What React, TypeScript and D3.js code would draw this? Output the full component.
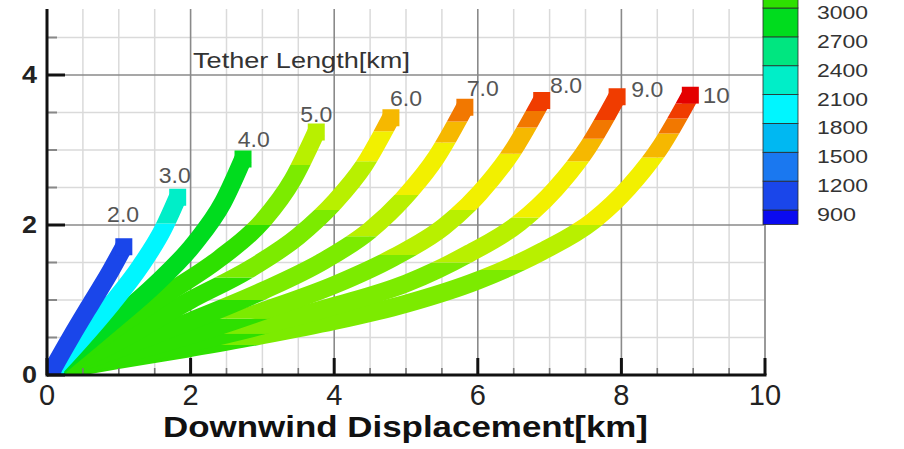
import React from "react";
import * as d3 from "d3";

// ---------- data ----------
const xTickValues = [0, 2, 4, 6, 8, 10];
const yTickValues = [0, 2, 4];
const legendValues = [900, 1200, 1500, 1800, 2100, 2400, 2700, 3000];
const levelBreaks = [900, 1200, 1500, 1800, 2100, 2400, 2700, 3000, 3300, 3600, 3900, 4200, 4500, 4800, 5100];
const levelColors = [
  "#0a0af0", "#1a46ea", "#1a78f0", "#00b8f2", "#00f6ff", "#00eec8", "#00e680", "#00dc1e",
  "#2ee000", "#7ceb00", "#b8f000", "#f2f000", "#f6b800", "#f27800", "#f03c00", "#e40000",
];

const tetherNames = ["2.0", "3.0", "4.0", "5.0", "6.0", "7.0", "8.0", "9.0", "10"];

// tether shapes [downwind km, altitude km]
const pts2 = [[0.08, 0.08], [0.33, 0.5], [0.63, 0.98], [0.87, 1.36], [1.07, 1.71]];
const pts3 = [[0.12, 0.1], [0.5, 0.5], [0.9, 0.95], [1.3, 1.45], [1.62, 1.95], [1.82, 2.37]];
const pts4 = [[0.15, 0.1], [0.9, 0.7], [1.5, 1.2], [2.05, 1.75], [2.45, 2.3], [2.73, 2.88]];
const pts5 = [[0.15, 0.08], [1.0, 0.65], [1.7, 1.1], [2.4, 1.55], [3.0, 2.05], [3.42, 2.6], [3.75, 3.24]];
const pts6 = [[0.15, 0.06], [1.0, 0.45], [2.0, 1.0], [2.8, 1.4], [3.5, 1.85], [4.0, 2.3], [4.42, 2.8], [4.79, 3.43]];
const pts7 = [[0.15, 0.06], [1.0, 0.35], [2.0, 0.72], [3.0, 1.12], [3.85, 1.52], [4.5, 1.93], [4.98, 2.37], [5.42, 2.9], [5.82, 3.57]];
const pts8 = [[0.15, 0.06], [1.0, 0.26], [2.0, 0.53], [3.0, 0.85], [4.0, 1.2], [4.83, 1.57], [5.53, 1.98], [6.03, 2.43], [6.48, 2.98], [6.89, 3.66]];
const pts9 = [[0.15, 0.06], [1.0, 0.22], [2.0, 0.43], [3.0, 0.66], [4.0, 0.92], [5.0, 1.22], [5.88, 1.62], [6.58, 2.03], [7.08, 2.48], [7.53, 3.03], [7.94, 3.71]];
const pts10 = [[0.15, 0.06], [1.0, 0.2], [2.0, 0.36], [3.0, 0.53], [4.0, 0.72], [5.0, 0.95], [6.0, 1.26], [6.9, 1.65], [7.6, 2.05], [8.1, 2.5], [8.55, 3.05], [8.96, 3.73]];

// tension along each tether: [altitude km from which, tension value]
const tension2 = [[0, 1000]];
const tension3 = [[0, 1950], [2.02, 2250]];
const tension4 = [[0, 2850]];
const tension5 = [[0, 3100], [2.0, 3450], [2.8, 3700]];
const tension6 = [[0, 3100], [1.3, 3450], [2.2, 3700], [2.85, 4000], [3.25, 4300]];
const tension7 = [[0, 3100], [1.0, 3450], [1.85, 3700], [2.4, 4000], [3.1, 4300], [3.38, 4600]];
const tension8 = [[0, 3100], [0.75, 3450], [1.6, 3700], [2.2, 4000], [2.95, 4300], [3.3, 4600], [3.52, 4900]];
const tension9 = [[0, 3100], [0.55, 3450], [1.5, 3700], [2.1, 4000], [2.85, 4300], [3.15, 4600], [3.4, 4900]];
const tension10 = [[0, 3100], [0.4, 3450], [1.4, 3700], [2.0, 4000], [2.9, 4300], [3.22, 4600], [3.42, 4900], [3.62, 5200]];

// tether label anchors [km, km]
const labelAnchors = [[1.06, 2.04], [1.78, 2.56], [2.88, 3.04], [3.75, 3.37], [5.0, 3.59], [6.07, 3.72], [7.23, 3.76], [8.36, 3.71], [9.32, 3.63]];

const FONT = "'Liberation Sans', Arial, sans-serif";

export default function App() {
  const x = d3.scaleLinear().domain([0, 10]).range([47, 765]);
  const y = d3.scaleLinear().domain([0, 4.88]).range([375, 9]);
  const color = d3.scaleThreshold<number, string>().domain(levelBreaks).range(levelColors);
  const line = d3
    .line<number[]>()
    .x((d) => x(d[0]))
    .y((d) => y(d[1]))
    .curve(d3.curveMonotoneX);
  const legendY = d3.scaleLinear().domain([900, 3000]).range([210, 8]);

  const tethers = [pts2, pts3, pts4, pts5, pts6, pts7, pts8, pts9, pts10];
  const tensions = [tension2, tension3, tension4, tension5, tension6, tension7, tension8, tension9, tension10];
  const order = d3.range(tethers.length).reverse();
  const yTop = y.domain()[1];
  const BW = 18;
  const SQ = 17;

  const minorX = d3.range(0.5, 10, 0.5).filter((v) => Math.abs(v % 2) > 1e-6);
  const majorX = [2, 4, 6, 8];
  const minorY = d3.range(0.5, yTop, 0.5).filter((v) => Math.abs(v % 2) > 1e-6);
  const majorY = [2, 4];

  const legendBins = [[750, 900], ...d3.pairs([...legendValues, 3300])];

  return (
    <svg width={904} height={449} style={{ position: "absolute", left: 0, top: 0, background: "#fff" }} fontFamily={FONT}>
      <defs>
        <clipPath id="plotArea">
          <rect x={x(0)} y={y(yTop)} width={x(10) - x(0)} height={y(0) - y(yTop)} />
        </clipPath>
        {tensions.map((tn, i) =>
          tn.map((b, j) => {
            const y0 = b[0];
            const y1 = j + 1 < tn.length ? tn[j + 1][0] : yTop;
            return (
              <clipPath key={`c${i}-${j}`} id={`c${i}-${j}`}>
                <rect x={x(0)} y={y(y1)} width={x(10) - x(0)} height={y(y0) - y(y1)} />
              </clipPath>
            );
          })
        )}
      </defs>

      {/* grid */}
      {minorX.map((v) => (
        <line key={`gx${v}`} x1={x(v)} x2={x(v)} y1={y(0)} y2={y(yTop)} stroke="#dadada" strokeWidth={1.5} />
      ))}
      {minorY.map((v) => (
        <line key={`gy${v}`} x1={x(0)} x2={x(10)} y1={y(v)} y2={y(v)} stroke="#dadada" strokeWidth={1.5} />
      ))}
      {majorX.map((v) => (
        <line key={`Gx${v}`} x1={x(v)} x2={x(v)} y1={y(0)} y2={y(yTop)} stroke="#8a8a8a" strokeWidth={1.6} />
      ))}
      {majorY.map((v) => (
        <line key={`Gy${v}`} x1={x(0)} x2={x(10)} y1={y(v)} y2={y(v)} stroke="#8a8a8a" strokeWidth={1.6} />
      ))}
      <line x1={x(10)} x2={x(10)} y1={y(0)} y2={y(yTop)} stroke="#999" strokeWidth={2} />

      {/* tether labels */}
      {tetherNames.map((name, i) => (
        <text
          key={`lab${name}`}
          x={x(labelAnchors[i][0])}
          y={y(labelAnchors[i][1])}
          textAnchor="middle"
          fontSize={22}
          fill="#555"
          textLength={name.length === 3 ? 32 : 27}
          lengthAdjust="spacingAndGlyphs"
        >
          {name}
        </text>
      ))}
      <text x={193} y={68} fontSize={22} fill="#333" textLength={217} lengthAdjust="spacingAndGlyphs">
        Tether Length[km]
      </text>

      {/* tethers */}
      <g clipPath="url(#plotArea)">
        {order.map((i) => {
          const pts = tethers[i];
          const first = pts[0];
          const last = pts[pts.length - 1];
          return (
            <g key={`t${i}`}>
              {tensions[i].map((b, j) => {
                const c = color(b[1]);
                return (
                  <g key={`s${i}-${j}`} clipPath={`url(#c${i}-${j})`}>
                    <path d={line(pts) || ""} fill="none" stroke={c} strokeWidth={BW} strokeLinejoin="round" />
                    <rect x={x(first[0]) - SQ / 2} y={y(first[1]) - SQ / 2} width={SQ} height={SQ} fill={c} />
                    <rect x={x(last[0]) - SQ / 2} y={y(last[1]) - SQ / 2} width={SQ} height={SQ} fill={c} />
                  </g>
                );
              })}
            </g>
          );
        })}
      </g>

      {/* axes */}
      {minorY.map((v) => (
        <line key={`ty${v}`} x1={x(0)} x2={x(0) + 10} y1={y(v)} y2={y(v)} stroke="#888" strokeWidth={2} />
      ))}
      {minorX.map((v) => (
        <line key={`tx${v}`} x1={x(v)} x2={x(v)} y1={y(0)} y2={y(0) - 7} stroke="#777" strokeWidth={1.6} />
      ))}
      {yTickValues.map((v) => (
        <line key={`TY${v}`} x1={x(0)} x2={x(0) + 18} y1={y(v)} y2={y(v)} stroke="#111" strokeWidth={3} />
      ))}
      {xTickValues.map((v) => (
        <line key={`TX${v}`} x1={x(v)} x2={x(v)} y1={y(0)} y2={y(0) - 17} stroke="#111" strokeWidth={3} />
      ))}
      <line x1={x(0)} x2={x(0)} y1={y(yTop)} y2={y(0) + 1.5} stroke="#111" strokeWidth={3} />
      <line x1={x(0)} x2={x(10) + 1.5} y1={y(0)} y2={y(0)} stroke="#111" strokeWidth={3} />

      {xTickValues.map((v) => (
        <text key={`xl${v}`} x={x(v)} y={405} textAnchor="middle" fontSize={29} fill="#222">
          {v}
        </text>
      ))}
      {yTickValues.map((v) => (
        <text
          key={`yl${v}`}
          x={37}
          y={y(v) + 8}
          textAnchor="end"
          fontSize={24}
          fontWeight="bold"
          fill="#222"
          textLength={15}
          lengthAdjust="spacingAndGlyphs"
        >
          {v}
        </text>
      ))}
      <text x={163} y={437} fontSize={30} fontWeight="bold" fill="#111" textLength={485} lengthAdjust="spacingAndGlyphs">
        Downwind Displacement[km]
      </text>

      {/* colour legend */}
      {legendBins.map(([lo, hi]) => (
        <rect
          key={`lb${lo}`}
          x={763}
          y={legendY(hi)}
          width={35}
          height={legendY(lo) - legendY(hi)}
          fill={color(lo === 750 ? 800 : lo)}
          stroke="#2a2a2a"
          strokeWidth={0.8}
        />
      ))}
      {legendValues.map((v) => (
        <text
          key={`lv${v}`}
          x={817}
          y={legendY(v) + 11}
          fontSize={18}
          fill="#333"
          textLength={String(v).length === 4 ? 51 : 39}
          lengthAdjust="spacingAndGlyphs"
        >
          {v}
        </text>
      ))}
    </svg>
  );
}
